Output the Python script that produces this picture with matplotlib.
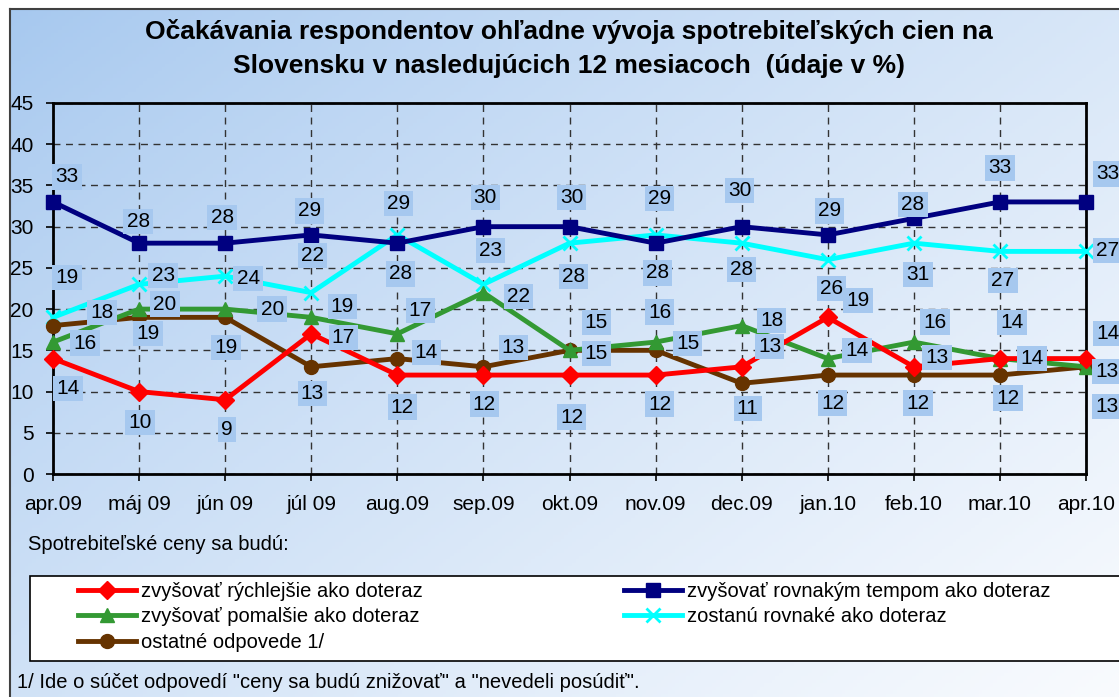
import numpy as np
import matplotlib
matplotlib.use("Agg")
import matplotlib.pyplot as plt
from matplotlib.patches import Rectangle

plt.rcParams['font.family'] = ['Liberation Sans', 'DejaVu Sans']

# ---------------- data ----------------
months = ["apr.09", "máj 09", "jún 09", "júl 09", "aug.09", "sep.09", "okt.09",
          "nov.09", "dec.09", "jan.10", "feb.10", "mar.10", "apr.10"]

faster = [14, 10, 9, 17, 12, 12, 12, 12, 13, 19, 13, 14, 14]
same_pace = [33, 28, 28, 29, 28, 30, 30, 28, 30, 29, 31, 33, 33]
slower = [16, 20, 20, 19, 17, 22, 15, 16, 18, 14, 16, 14, 13]
unchanged = [19, 23, 24, 22, 29, 23, 28, 29, 28, 26, 28, 27, 27]
other = [18, 19, 19, 13, 14, 13, 15, 15, 11, 12, 12, 12, 13]

# data-label texts as printed in the original chart
faster_lbl = [14, 10, 9, 17, 12, 12, 12, 12, 13, 19, 13, 14, 14]
same_pace_lbl = [33, 28, 28, 29, 29, 30, 30, 29, 30, 29, 28, 33, 33]
slower_lbl = [16, 20, 20, 19, 17, 22, 15, 16, 18, 14, 16, 14, 13]
unchanged_lbl = [19, 23, 24, 22, 28, 23, 28, 28, 28, 26, 31, 27, 27]
other_lbl = [18, 19, 19, 13, 14, 13, 15, 15, 11, 12, 12, 12, 13]

names = ["zvyšovať rýchlejšie ako doteraz",
         "zvyšovať rovnakým tempom ako doteraz",
         "zvyšovať pomalšie ako doteraz",
         "zostanú rovnaké ako doteraz",
         "ostatné odpovede 1/"]

yticks = [0, 5, 10, 15, 20, 25, 30, 35, 40, 45]

# ---------------- label placement (pixel offsets, image y downwards) ----------------
faster_off = [(15, 30), (1, 31), (2, 30), (32, 4), (5, 32), (1, 29), (2, 42), (4, 29),
              (28, -20), (30, -17), (23, -9), (12, -36), (22, -25)]
same_off = [(14, -25), (-1, -22), (-3, -26), (-2, -24), (1, -40), (2, -29), (2, -29),
            (4, -45), (-2, -36), (2, -24), (-1, -14), (0, -34), (22, -28)]
unch_off = [(14, -40), (24, -9), (23, 2), (1, -37), (3, 39), (7, -34), (4, 33), (2, 38),
            (0, 26), (4, 29), (4, 31), (3, 29), (22, -1)]
slower_off = [(32, 1), (26, -5), (47, 0), (31, -11), (23, -23), (35, 4), (27, -28),
              (4, -30), (30, -5), (29, -8), (21, -20), (32, 0), (21, 5)]
other_off = [(49, -13), (9, 16), (1, 30), (1, 27), (29, -6), (30, -19), (27, 3), (32, -7),
             (6, 25), (5, 28), (4, 28), (8, 23), (21, 40)]

W, H = 1119, 697
fig = plt.figure(figsize=(W / 100, H / 100), dpi=100)
fig.patch.set_facecolor("white")

# ---------------- gradient background with frame ----------------
bx0, btop = 10 / W, 1 - 9 / H
bg = fig.add_axes([bx0, 0, 1 - bx0, btop], zorder=-10)
ny, nx = 200, 300
u = np.linspace(0, 1, nx)[None, :]
v = np.linspace(0, 1, ny)[:, None]
t = np.clip(0.55 * u + 0.45 * v, 0, 1) ** 0.85
c1 = np.array([166, 200, 239]) / 255
c2 = np.array([249, 251, 254]) / 255
img = c1[None, None, :] * (1 - t[..., None]) + c2[None, None, :] * t[..., None]
bg.imshow(img, aspect="auto", extent=[0, 1, 0, 1], origin="upper")
bg.set_xlim(0, 1)
bg.set_ylim(0, 1)
bg.set_xticks([])
bg.set_yticks([])
for s in ["right", "bottom"]:
    bg.spines[s].set_visible(False)
for s in ["left", "top"]:
    bg.spines[s].set_color("#404040")
    bg.spines[s].set_linewidth(1.5)

# ---------------- main axes ----------------
L, R, T, B = 53, 1086, 103, 474
ax = fig.add_axes([L / W, 1 - B / H, (R - L) / W, (B - T) / H])
ax.patch.set_alpha(0)
x = np.arange(len(months))

series = [
    (unchanged, unchanged_lbl, unch_off, "#00ffff", "x", 10, 3.5, names[3]),
    (other, other_lbl, other_off, "#663300", "o", 10, 3.5, names[4]),
    (slower, slower_lbl, slower_off, "#339933", "^", 10, 3.5, names[2]),
    (faster, faster_lbl, faster_off, "#ff0000", "D", 9, 3.5, names[0]),
    (same_pace, same_pace_lbl, same_off, "#000080", "s", 10, 3.5, names[1]),
]
handles = {}
for vals, lbls, offs, col, mk, ms, lw, nm in series:
    mew = 2 if mk == "x" else 1
    ln, = ax.plot(x, vals, color=col, marker=mk, markersize=ms, linewidth=lw,
                  markeredgecolor=col, markerfacecolor=col, markeredgewidth=mew,
                  clip_on=False, zorder=3, label=nm)
    handles[nm] = ln
    for xi, yi, lb, (dx, dy) in zip(x, vals, lbls, offs):
        ax.annotate(str(lb), (xi, yi), xytext=(dx, -dy), textcoords="offset pixels",
                    ha="center", va="center", fontsize=15, color="black", zorder=5,
                    annotation_clip=False,
                    bbox=dict(boxstyle="square,pad=0.15", facecolor="#a6c8ef",
                              edgecolor="none"))

ax.set_xlim(0, len(months) - 1)
ax.set_ylim(0, 45)
ax.set_yticks(yticks)
ax.set_xticks(x)
ax.set_xticklabels(months)
ax.tick_params(axis="both", labelsize=15, length=5, width=1.2, direction="out",
               colors="black")
ax.tick_params(axis="y", pad=9)
ax.tick_params(axis="x", pad=10)
ax.grid(True, color="#333333", linestyle=(0, (5, 4)), linewidth=1)
ax.set_axisbelow(True)
for s in ax.spines.values():
    s.set_linewidth(2)
    s.set_color("black")

# ---------------- title ----------------
fig.text(569 / W, 1 - 31 / H, "Očakávania respondentov ohľadne vývoja spotrebiteľských cien na",
         ha="center", va="center", fontsize=19, fontweight="bold")
fig.text(569 / W, 1 - 66 / H, "Slovensku v nasledujúcich 12 mesiacoch  (údaje v %)",
         ha="center", va="center", fontsize=19, fontweight="bold")

# ---------------- legend area ----------------
fig.text(28 / W, 1 - 545 / H, "Spotrebiteľské ceny sa budú:", ha="left", va="center",
         fontsize=14.5)
fig.add_artist(Rectangle((30 / W, 1 - 661 / H), 1.2, (661 - 576) / H,
                         transform=fig.transFigure, facecolor="white",
                         edgecolor="black", linewidth=1.2, zorder=1))
leg_kw = dict(frameon=False, fontsize=14.5, handlelength=2.9, handletextpad=0.25,
              labelspacing=0.32, borderpad=0, borderaxespad=0, loc="upper left")
leg1 = fig.legend([handles[names[0]], handles[names[2]], handles[names[4]]],
                  [names[0], names[2], names[4]],
                  bbox_to_anchor=(78 / W, 1 - 582 / H), **leg_kw)
leg2 = fig.legend([handles[names[1]], handles[names[3]]],
                  [names[1], names[3]],
                  bbox_to_anchor=(624 / W, 1 - 582 / H), **leg_kw)
for lg in (leg1, leg2):
    lg.set_zorder(3)

fig.text(17 / W, 1 - 682 / H, "1/ Ide o súčet odpovedí \"ceny sa budú znižovať\" a \"nevedeli posúdiť\".",
         ha="left", va="center", fontsize=14.5)

fig.savefig("out.png", dpi=100)
